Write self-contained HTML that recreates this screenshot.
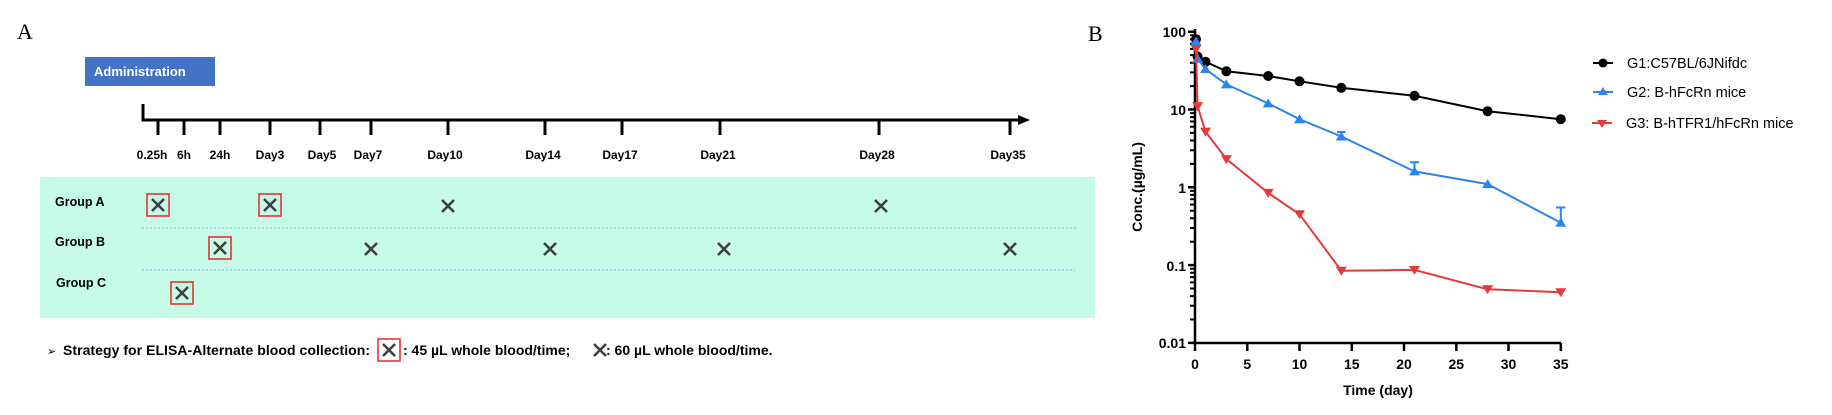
<!DOCTYPE html>
<html><head><meta charset="utf-8"><style>
html,body{margin:0;padding:0;background:#fff;width:1832px;height:415px;overflow:hidden}
svg{display:block}
.b{font-family:"Liberation Sans",sans-serif;font-weight:bold}
.s{font-family:"Liberation Sans",sans-serif}
</style></head><body>
<svg width="1832" height="415" viewBox="0 0 1832 415" xmlns="http://www.w3.org/2000/svg">
<defs>
<g id="x"><path d="M-6,-6L6,6M6,-6L-6,6" stroke="#404040" stroke-width="2.6" fill="none"/></g>
<g id="bx"><rect x="-11" y="-11" width="22" height="22" fill="none" stroke="#e53535" stroke-width="1.6"/><use href="#x"/></g>
<g id="mt" stroke="#000" stroke-width="2"><path d="M-5,-23.4H0M-5,-37.1H0M-5,-46.8H0M-5,-54.4H0M-5,-60.5H0M-5,-65.8H0M-5,-70.2H0M-5,-74.2H0"/></g>
</defs>
<!-- Panel A -->
<text x="17" y="39" font-family="Liberation Serif,serif" font-size="22">A</text>
<rect x="85" y="57" width="130" height="29" fill="#4472c4"/>
<text x="94" y="76" class="b" font-size="13" fill="#fff">Administration</text>
<path d="M143,104V120H1020" stroke="#000" stroke-width="3" fill="none"/>
<path d="M1018,115L1030,120L1018,125Z" fill="#000"/>
<g stroke="#000" stroke-width="3">
<path d="M158,120V135M184,120V135M220,120V135M270,120V135M320,120V135M371,120V135M448,120V135M545,120V135M622,120V135M720,120V135M879,120V135M1010,120V135"/>
</g>
<g class="b" font-size="12" text-anchor="middle" fill="#000">
<text x="152" y="159">0.25h</text><text x="184" y="159">6h</text><text x="220" y="159">24h</text>
<text x="270" y="159">Day3</text><text x="322" y="159">Day5</text><text x="368" y="159">Day7</text>
<text x="445" y="159">Day10</text><text x="543" y="159">Day14</text><text x="620" y="159">Day17</text>
<text x="718" y="159">Day21</text><text x="877" y="159">Day28</text><text x="1008" y="159">Day35</text>
</g>
<rect x="40" y="177" width="1055" height="141" fill="#c6fbe9"/>
<g stroke="#8fb3d9" stroke-width="1" stroke-dasharray="2,2">
<path d="M142,228H1077M142,270H1075"/>
</g>
<g class="b" font-size="12.5" fill="#000">
<text x="55" y="206">Group A</text><text x="55" y="246">Group B</text><text x="56" y="287">Group C</text>
</g>
<use href="#bx" x="158" y="205"/><use href="#bx" x="270" y="205"/>
<use href="#x" x="448" y="206"/><use href="#x" x="881" y="206"/>
<use href="#bx" x="220" y="248"/>
<use href="#x" x="371" y="249"/><use href="#x" x="550" y="249"/><use href="#x" x="724" y="249"/><use href="#x" x="1010" y="249"/>
<use href="#bx" x="182" y="293"/>
<text x="47" y="355" class="s" font-size="11">➢</text>
<text x="63" y="355" class="b" font-size="14" textLength="307">Strategy for ELISA-Alternate blood collection:</text>
<use href="#bx" x="389" y="350"/>
<text x="403" y="355" class="b" font-size="14">: 45 µL whole blood/time;</text>
<use href="#x" x="600" y="350"/>
<text x="606" y="355" class="b" font-size="14">: 60 µL whole blood/time.</text>
<!-- Panel B -->
<text x="1088" y="41" font-family="Liberation Serif,serif" font-size="22">B</text>
<path d="M1195,29V343H1561" stroke="#000" stroke-width="2.5" fill="none"/>
<g stroke="#000" stroke-width="2.5">
<path d="M1188,31.7H1195M1188,109.5H1195M1188,187.3H1195M1188,265.1H1195M1188,342.9H1195"/>
<path d="M1195,343v8M1247.3,343v8M1299.5,343v8M1351.8,343v8M1404,343v8M1456.3,343v8M1508.5,343v8M1560.8,343v8"/>
</g>
<use href="#mt" x="1195" y="109.5"/><use href="#mt" x="1195" y="187.3"/><use href="#mt" x="1195" y="265.1"/><use href="#mt" x="1195" y="342.9"/>
<g class="b" font-size="14" text-anchor="end">
<text x="1186" y="37">100</text><text x="1186" y="115">10</text><text x="1186" y="193">1</text><text x="1186" y="271">0.1</text><text x="1186" y="348">0.01</text>
</g>
<g class="b" font-size="14" text-anchor="middle">
<text x="1195" y="369">0</text><text x="1247.3" y="369">5</text><text x="1299.5" y="369">10</text><text x="1351.8" y="369">15</text><text x="1404" y="369">20</text><text x="1456.3" y="369">25</text><text x="1508.5" y="369">30</text><text x="1560.8" y="369">35</text>
</g>
<text x="1378" y="395" class="b" font-size="14" text-anchor="middle">Time (day)</text>
<text transform="translate(1142,187) rotate(-90)" class="b" font-size="14" text-anchor="middle">Conc.(µg/mL)</text>
<!-- G1 -->
<polyline fill="none" stroke="#000" stroke-width="2" points="1196,39.2 1197.6,56.5 1205.5,61.8 1226.4,71.3 1268.2,76 1299.5,81.3 1341.3,87.8 1414.5,95.8 1487.6,111.2 1560.8,119.2"/>
<g fill="#000">
<circle cx="1196" cy="39.2" r="5"/><circle cx="1197.6" cy="56.5" r="5"/><circle cx="1205.5" cy="61.8" r="5"/><circle cx="1226.4" cy="71.3" r="5"/><circle cx="1268.2" cy="76" r="5"/><circle cx="1299.5" cy="81.3" r="5"/><circle cx="1341.3" cy="87.8" r="5"/><circle cx="1414.5" cy="95.8" r="5"/><circle cx="1487.6" cy="111.2" r="5"/><circle cx="1560.8" cy="119.2" r="5"/>
</g>
<!-- G2 -->
<polyline fill="none" stroke="#2a85f0" stroke-width="2" points="1196,41.4 1197.6,58.7 1205.5,69.1 1226.4,84.4 1268.2,103.4 1299.5,119.2 1341.3,136.5 1414.5,171.4 1487.6,184.1 1560.8,222.8"/>
<path d="M1414.5,171.4V162.2M1410,162.2H1419M1560.8,222.8V207.5M1556,207.5H1565.5M1341.3,136.5V132M1337,132H1345.5" stroke="#2a85f0" stroke-width="2"/>
<g fill="#2a85f0">
<path d="M1196,36.4l5.5,9h-11z"/><path d="M1197.6,53.7l5.5,9h-11z"/><path d="M1205.5,64.1l5.5,9h-11z"/><path d="M1226.4,79.4l5.5,9h-11z"/><path d="M1268.2,98.4l5.5,9h-11z"/><path d="M1299.5,114.2l5.5,9h-11z"/><path d="M1341.3,131.5l5.5,9h-11z"/><path d="M1414.5,166.4l5.5,9h-11z"/><path d="M1487.6,179.1l5.5,9h-11z"/><path d="M1560.8,217.8l5.5,9h-11z"/>
</g>
<!-- G3 -->
<polyline fill="none" stroke="#e5393b" stroke-width="2" points="1196,49 1197.6,106.3 1205.5,131.6 1226.4,159.1 1268.2,192.9 1299.5,214.3 1341.3,270.7 1414.5,269.9 1487.6,289.3 1560.8,292.2"/>
<g fill="#e5393b">
<path d="M1196,54l5.5,-9h-11z"/><path d="M1197.6,111.3l5.5,-9h-11z"/><path d="M1205.5,136.6l5.5,-9h-11z"/><path d="M1226.4,164.1l5.5,-9h-11z"/><path d="M1268.2,197.9l5.5,-9h-11z"/><path d="M1299.5,219.3l5.5,-9h-11z"/><path d="M1341.3,275.7l5.5,-9h-11z"/><path d="M1414.5,274.9l5.5,-9h-11z"/><path d="M1487.6,294.3l5.5,-9h-11z"/><path d="M1560.8,297.2l5.5,-9h-11z"/>
</g>
<!-- Legend -->
<path d="M1593,63H1613" stroke="#000" stroke-width="2"/><circle cx="1603" cy="63" r="4.5" fill="#000"/>
<path d="M1593,92H1613" stroke="#2a85f0" stroke-width="2"/><path d="M1603,87l5,8h-10z" fill="#2a85f0"/>
<path d="M1592,123H1612" stroke="#e5393b" stroke-width="2"/><path d="M1602,128l5,-8h-10z" fill="#e5393b"/>
<g class="s" font-size="14.5" fill="#000">
<text x="1627" y="68">G1:C57BL/6JNifdc</text><text x="1627" y="97">G2: B-hFcRn mice</text><text x="1626" y="128">G3: B-hTFR1/hFcRn mice</text>
</g>
</svg>
</body></html>
